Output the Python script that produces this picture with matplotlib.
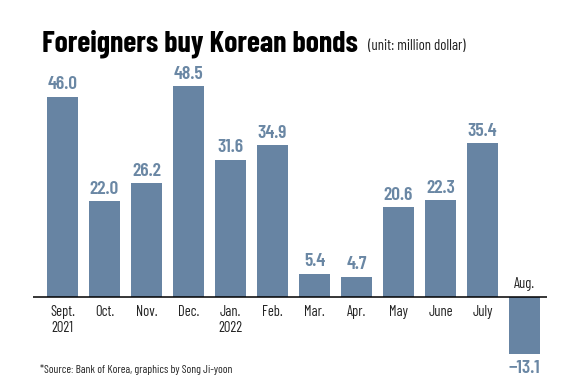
import matplotlib
matplotlib.use("Agg")
import matplotlib.pyplot as plt

months = ["Sept.\n2021", "Oct.", "Nov.", "Dec.", "Jan.\n2022", "Feb.",
          "Mar.", "Apr.", "May", "June", "July", "Aug."]
values = [46.0, 22.0, 26.2, 48.5, 31.6, 34.9, 5.4, 4.7, 20.6, 22.3, 35.4, -13.1]

plt.rcParams['font.family'] = ['Barlow Condensed', 'DejaVu Sans']

bar_col = "#6784a3"
lab_col = "#6a87a4"
W, H = 580, 390
fig = plt.figure(figsize=(W / 100, H / 100), dpi=100)

# axes placed in pixels: x 33..547, y 40..390, baseline at y=297, 4.35 px per unit
px_left, px_right, px_top, px_bot = 33, 547, 40, 390
base_y, c0, step = 297, 62.5, 42
ax = fig.add_axes([px_left / W, 1 - px_bot / H, (px_right - px_left) / W, (px_bot - px_top) / H])
scale = 4.35
ax.set_ylim(-(px_bot - base_y) / scale, (base_y - px_top) / scale)
ax.set_xlim((px_left - c0) / step, (px_right - c0) / step)
ax.axis("off")

x = list(range(len(values)))
ax.bar(x, values, width=31 / step, color=bar_col, zorder=2)
ax.axhline(0, color="black", lw=1.1, zorder=3)

for i, v in enumerate(values):
    if v >= 0:
        ax.annotate(f"{v:.1f}", (i, v), xytext=(0, 2.5), textcoords="offset points",
                    ha="center", va="bottom", fontsize=14, fontweight=600, color=lab_col)
        ax.annotate(months[i], (i, 0), xytext=(0, -5.5), textcoords="offset points",
                    ha="center", va="top", fontsize=10.5, color="#222222", linespacing=1.25)
    else:
        ax.annotate(f"{v:.1f}".replace("-", "\u2212"), (i, v), xytext=(0, -4), textcoords="offset points",
                    ha="center", va="top", fontsize=14, fontweight=600, color=lab_col)
        ax.annotate(months[i], (i, 0), xytext=(0, 4.5), textcoords="offset points",
                    ha="center", va="bottom", fontsize=10.5, color="#222222")

fig.text(42 / W, 1 - 52 / H, "Foreigners buy Korean bonds", fontsize=21.5, fontweight="bold",
         color="black", ha="left", va="baseline")
fig.text(368 / W, 1 - 50 / H, "(unit: million dollar)", fontsize=10.7, color="#222222",
         ha="left", va="baseline")
fig.text(40 / W, 1 - 373 / H, "*Source: Bank of Korea, graphics by Song Ji-yoon", fontsize=8.2,
         color="#222222", ha="left", va="baseline")

fig.savefig("out.png", dpi=100)
